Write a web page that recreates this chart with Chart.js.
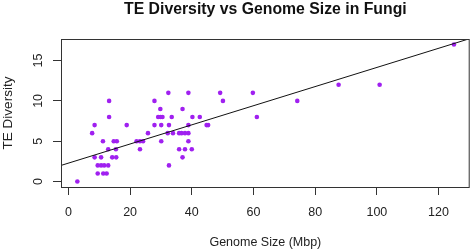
<!DOCTYPE html>
<html>
<head>
<meta charset="utf-8">
<script src="https://cdn.jsdelivr.net/npm/chart.js@4.4.0/dist/chart.umd.min.js"></script>
<style>
  html, body { margin: 0; padding: 0; background: #fff; }
  canvas { display: block; }
</style>
</head>
<body>
<canvas id="chart" width="472" height="252"></canvas>
<script>
// TE diversity vs genome size

const genomeSize = [
  2.9, 7.7, 8.5, 18.9, 13.2, 13.2,
  11.2, 14.7, 15.7, 22.1, 23.2, 24.2,
  12.9, 15.4, 23.2,
  8.5, 10.6, 14.2, 15.5,
  9.5, 10.6, 11.6, 12.9,
  9.5, 11.3, 12.4,
  32.4, 38.9, 27.9, 29.8, 37.0,
  29.1, 29.9, 30.5, 33.5, 40.2, 42.6,
  27.9, 30.1, 32.6, 38.9, 44.8, 45.3,
  25.8, 32.2, 33.9, 35.9, 36.7, 37.8, 38.9,
  30.1, 38.9,
  35.9, 37.8, 40.0,
  37.0, 32.6,
  49.2, 59.8, 50.1, 61.1,
  74.2, 87.6, 100.9, 125.0
];

const teDiversity = [
  0, 6, 7, 7, 8, 10,
  5, 5, 5, 5, 5, 5,
  4, 4, 4,
  3, 3, 3, 3,
  2, 2, 2, 2,
  1, 1, 1,
  11, 11, 10, 9, 9,
  8, 8, 8, 8, 8, 8,
  7, 7, 7, 7, 7, 7,
  6, 6, 6, 6, 6, 6, 6,
  5, 5,
  4, 4, 4,
  3, 2,
  11, 11, 10, 8,
  10, 12, 12, 17
];

// fitted line (intercept, slope)
const fitIntercept = 2.28;
const fitSlope = 0.1187;

const xTicks = [0, 20, 40, 60, 80, 100, 120];
const yTicks = [0, 5, 10, 15];

const xMin = -2.4, xMax = 130.1;
const yMin = -0.68, yMax = 17.68;

const points = genomeSize.map((x, i) => ({ x: x, y: teDiversity[i] }));
const fitLine = [
  { x: xMin, y: fitIntercept + fitSlope * xMin },
  { x: xMax, y: fitIntercept + fitSlope * xMax }
];

const FONT = "'Liberation Sans', Arial, sans-serif";
const TEXT = "#222";

// draws the box, title, axis titles and the vertical y labels (R style)
const rStyle = {
  id: "rStyle",
  afterDraw(chart) {
    const ctx = chart.ctx;
    const a = chart.chartArea;
    const ys = chart.scales.y;
    const cx = (a.left + a.right) / 2;

    ctx.save();
    ctx.strokeStyle = "#333";
    ctx.lineWidth = 1;
    ctx.strokeRect(a.left + 0.5, a.top + 0.5, a.right - a.left - 1, a.bottom - a.top);

    ctx.fillStyle = "#111";
    ctx.textAlign = "center";
    ctx.textBaseline = "alphabetic";
    ctx.font = "bold 15.8px " + FONT;
    ctx.fillText("TE Diversity vs Genome Size in Fungi", cx, 13.5);

    ctx.fillStyle = TEXT;
    ctx.font = "12.5px " + FONT;
    ctx.textBaseline = "middle";
    ctx.fillText("Genome Size (Mbp)", cx, 242.5);

    ctx.save();
    ctx.font = "13.5px " + FONT;
    ctx.translate(8.5, 113);
    ctx.rotate(-Math.PI / 2);
    ctx.fillText("TE Diversity", 0, 0);
    ctx.restore();

    yTicks.forEach((v) => {
      ctx.save();
      ctx.translate(39, ys.getPixelForValue(v));
      ctx.rotate(-Math.PI / 2);
      ctx.fillText(String(v), 0, 0);
      ctx.restore();
    });
    ctx.restore();
  }
};

new Chart(document.getElementById("chart"), {
  type: "scatter",
  data: {
    datasets: [
      {
        type: "line",
        data: fitLine,
        borderColor: "#111",
        borderWidth: 1,
        pointRadius: 0,
        fill: false
      },
      {
        data: points,
        backgroundColor: "#A020F0",
        borderWidth: 0,
        pointRadius: 2.3,
        pointHoverRadius: 2.3
      }
    ]
  },
  options: {
    responsive: false,
    animation: false,
    events: [],
    layout: { padding: { top: 39, right: 1, left: 0, bottom: 0 } },
    plugins: {
      legend: { display: false },
      title: { display: false },
      tooltip: { enabled: false }
    },
    scales: {
      x: {
        type: "linear",
        min: xMin,
        max: xMax,
        afterBuildTicks: (s) => { s.ticks = xTicks.map((v) => ({ value: v })); },
        afterFit: (s) => { s.height = 65; },
        border: { display: false },
        grid: { drawOnChartArea: false, drawTicks: true, tickLength: 8, tickColor: "#333" },
        ticks: { color: TEXT, font: { family: FONT, size: 12.5 }, padding: 10, maxRotation: 0 }
      },
      y: {
        type: "linear",
        min: yMin,
        max: yMax,
        afterBuildTicks: (s) => { s.ticks = yTicks.map((v) => ({ value: v })); },
        afterFit: (s) => { s.width = 61; },
        border: { display: false },
        grid: { drawOnChartArea: false, drawTicks: true, tickLength: 8, tickColor: "#333" },
        ticks: { display: false }
      }
    }
  },
  plugins: [rStyle]
});
</script>
</body>
</html>
